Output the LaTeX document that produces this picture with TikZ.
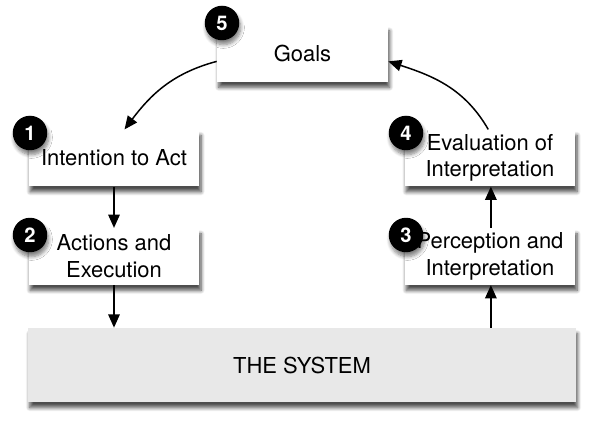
\documentclass[tikz,border=0pt]{standalone}
\usepackage{fontspec}
\setmainfont{TeX Gyre Heros}
\usepackage{tikz}
\usetikzlibrary{arrows.meta}
\usetikzlibrary{shadows.blur}

\begin{document}
\begin{tikzpicture}[x=0.02cm, y=0.02cm,
    box/.style={fill=white, minimum width=3.42cm, minimum height=1.13cm, inner sep=0pt, align=center,
        font=\fontsize{12.5}{15.2}\selectfont,
        blur shadow={shadow xshift=0.9pt, shadow yshift=-3.2pt, shadow blur steps=8, shadow opacity=70}},
    sysbox/.style={box, fill=black!9, minimum width=10.96cm, minimum height=1.48cm},
    num/.style={circle, fill=black, text=white, minimum size=0.69cm, inner sep=0pt,
        font=\fontsize{11.5}{11.5}\selectfont\bfseries,
        blur shadow={shadow xshift=0.8pt, shadow yshift=-2.5pt, shadow blur steps=6, shadow opacity=50}},
    arr/.style={-{Triangle[length=7.5pt, width=6.5pt]}, line width=0.85pt}]
    \useasboundingbox (0,0) rectangle (590,422);

    \node[box] (goals) at (302.5,368.5) {Goals};
    \node[box] (intent) at (114,264) {Intention to Act};
    \node[box] (actions) at (114,165.5) {Actions and\\Execution};
    \node[box] (eval) at (490,264) {Evaluation of\\Interpretation};
    \node[box] (percept) at (490,165.5) {Perception and\\Interpretation};
    \node[sysbox] (system) at (302,57) {THE SYSTEM};

    \node[num] (n5) at (222,399) {5};
    \node[num] (n1) at (30,289) {1};
    \node[num] (n2) at (30,187) {2};
    \node[num] (n4) at (406,289) {4};
    \node[num] (n3) at (406,187) {3};

    \draw[arr] ([yshift=-4.5pt]goals.west) to[out=195, in=53] ([xshift=6pt]intent.north);
    \draw[arr] (intent) -- (actions);
    \draw[arr] (actions.south) -- (actions.south |- system.north);
    \draw[arr] ([xshift=0.5pt]percept.south |- system.north) -- ([xshift=0.5pt]percept.south);
    \draw[arr] ([xshift=0.5pt]percept.north) -- ([xshift=0.5pt]eval.south);
    \draw[arr] ([xshift=-1pt]eval.north) to[out=120, in=-18] ([yshift=-4.5pt]goals.east);
\end{tikzpicture}
\end{document}
